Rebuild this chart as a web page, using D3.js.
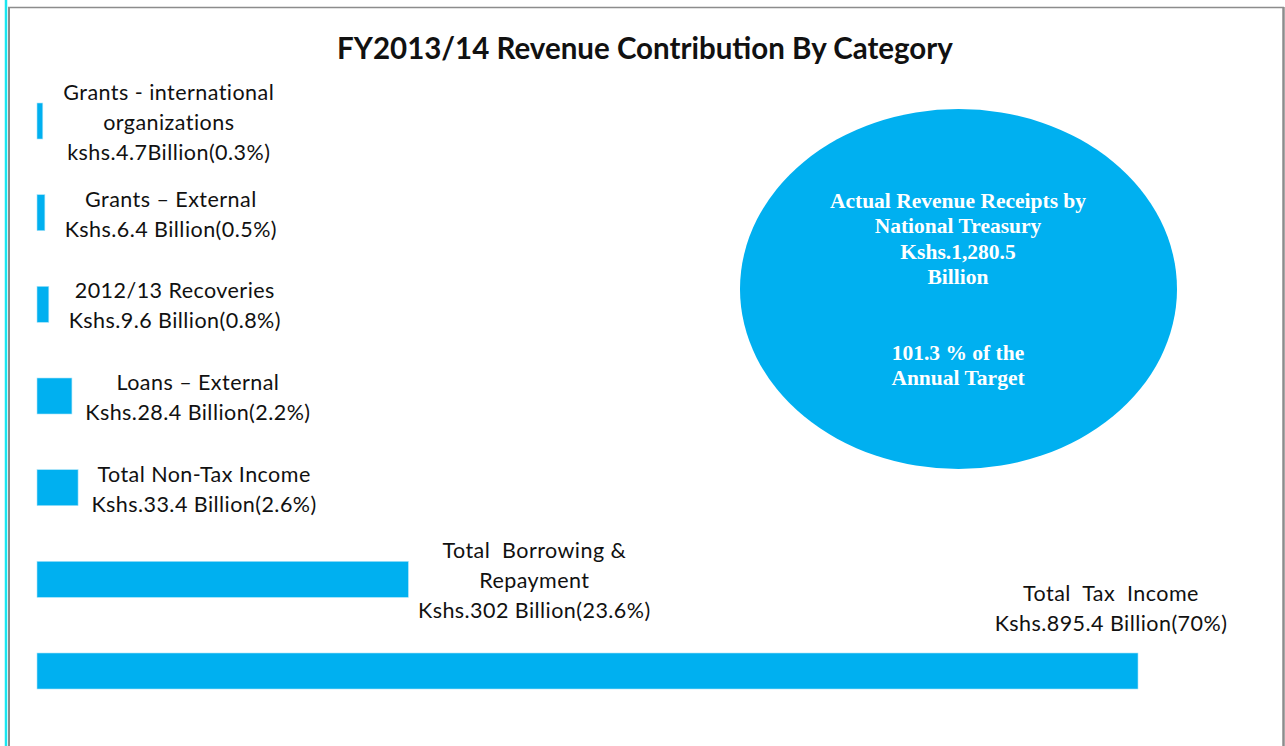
<!DOCTYPE html>
<html>
<head>
<meta charset="utf-8">
<script src="https://cdn.jsdelivr.net/npm/d3@7/dist/d3.min.js"></script>
<style>
  html, body { margin: 0; padding: 0; background: #fff; }
  svg { display: block; }
</style>
</head>
<body>
<div id="chart"></div>
<script>
// Revenue contribution bars, top to bottom as in the source slide.
const categories = [
  "Grants - international organizations",
  "Grants – External",
  "2012/13 Recoveries",
  "Loans – External",
  "Total Non-Tax Income",
  "Total Borrowing & Repayment",
  "Total Tax Income",
];
const valuesBillion = [4.7, 6.4, 9.6, 28.4, 33.4, 302, 895.4];
const sharePct = [0.3, 0.5, 0.8, 2.2, 2.6, 23.6, 70];
const labelLines = [
  ["Grants - international", "organizations", "kshs.4.7Billion(0.3%)"],
  ["Grants – External", "Kshs.6.4 Billion(0.5%)"],
  ["2012/13 Recoveries", "Kshs.9.6 Billion(0.8%)"],
  ["Loans – External", "Kshs.28.4 Billion(2.2%)"],
  ["Total Non-Tax Income", "Kshs.33.4 Billion(2.6%)"],
  ["Total  Borrowing &", "Repayment", "Kshs.302 Billion(23.6%)"],
  ["Total  Tax  Income", "Kshs.895.4 Billion(70%)"],
];
const title = "FY2013/14 Revenue Contribution By Category";
const calloutLines = [
  "Actual Revenue Receipts by",
  "National Treasury",
  "Kshs.1,280.5",
  "Billion",
  "",
  "",
  "101.3 % of the",
  "Annual Target",
];

const W = 1285, H = 746;
const BAR_COLOR = "#00b0f0";
const SANS = "Lato, 'Open Sans', sans-serif";
const SERIF = "'Liberation Serif', 'Times New Roman', serif";

const rows = categories.map((c, i) => ({
  name: c,
  value: valuesBillion[i],
  pct: sharePct[i],
  lines: labelLines[i],
}));

const svg = d3.select("#chart")
  .append("svg")
  .attr("width", W)
  .attr("height", H);

// ─── frame ──────────────────────────────────────────────────────────
svg.append("rect").attr("x", 0).attr("y", 0).attr("width", W).attr("height", H).attr("fill", "#fff");
svg.append("line")
  .attr("x1", 8).attr("x2", 1284).attr("y1", 7.5).attr("y2", 7.5)
  .attr("stroke", "#8c8c8c").attr("stroke-width", 1.5);
svg.append("line")
  .attr("x1", 9).attr("x2", 9).attr("y1", 7).attr("y2", H)
  .attr("stroke", "#8c8c8c").attr("stroke-width", 2);
svg.append("line")
  .attr("x1", 6).attr("x2", 6).attr("y1", 0).attr("y2", H)
  .attr("stroke", "#19e6f0").attr("stroke-width", 2.5);
svg.append("line")
  .attr("x1", 1283.5).attr("x2", 1283.5).attr("y1", 7).attr("y2", H)
  .attr("stroke", "#8c8c8c").attr("stroke-width", 2.5);

// ─── title ──────────────────────────────────────────────────────────
svg.append("text")
  .attr("x", 645)
  .attr("y", 59)
  .attr("text-anchor", "middle")
  .attr("font-family", SANS)
  .attr("font-weight", 700)
  .attr("font-size", 29.5)
  .attr("fill", "#111")
  .text(title);

// ─── scales ─────────────────────────────────────────────────────────
const x = d3.scaleLinear()
  .domain([0, d3.max(valuesBillion)])
  .range([37, 1138]);

const y = d3.scalePoint()
  .domain(categories)
  .range([121, 671]);

const barH = 36;

// ─── bars ───────────────────────────────────────────────────────────
svg.append("g")
  .attr("class", "bars")
  .selectAll("rect")
  .data(rows)
  .join("rect")
  .attr("x", x(0))
  .attr("y", (d) => y(d.name) - barH / 2)
  .attr("width", (d) => x(d.value) - x(0))
  .attr("height", barH)
  .attr("fill", BAR_COLOR)
  .attr("stroke", "#a9e3f8")
  .attr("stroke-width", 0.6);

// ─── labels ─────────────────────────────────────────────────────────
const maxVal = d3.max(valuesBillion);
const lineH = 30;

const labelG = svg.append("g")
  .attr("class", "labels")
  .selectAll("text")
  .data(rows)
  .join("text")
  .attr("text-anchor", "middle")
  .attr("font-family", SANS)
  .attr("font-size", 21.5)
  .attr("letter-spacing", 0.45)
  .attr("fill", "#111")
  .style("white-space", "pre")
  .attr("xml:space", "preserve");

labelG.each(function (d) {
  const t = d3.select(this);
  const biggest = d.value === maxVal;
  // small bars: text beside the bar end; biggest bar: text sits above its end
  const cx = biggest ? x(d.value) - 27 : x(d.value) + 126;
  const n = d.lines.length;
  const first = biggest
    ? y(d.name) - barH / 2 - 22 - (n - 1) * lineH
    : y(d.name) + 9 - ((n - 1) * lineH) / 2;
  t.selectAll("tspan")
    .data(d.lines)
    .join("tspan")
    .attr("x", cx)
    .attr("y", (_, i) => first + i * lineH)
    .text((s) => s);
});

// ─── callout ellipse ────────────────────────────────────────────────
const callout = svg.append("g").attr("class", "callout");
callout.append("ellipse")
  .attr("cx", 958.5)
  .attr("cy", 289)
  .attr("rx", 218.5)
  .attr("ry", 180)
  .attr("fill", BAR_COLOR);

callout.append("text")
  .attr("text-anchor", "middle")
  .attr("font-family", SERIF)
  .attr("font-weight", 700)
  .attr("font-size", 21.5)
  .attr("fill", "#fff")
  .selectAll("tspan")
  .data(calloutLines)
  .join("tspan")
  .attr("x", 958)
  .attr("y", (_, i) => 208 + i * 25.3)
  .text((s) => s);
</script>
</body>
</html>
